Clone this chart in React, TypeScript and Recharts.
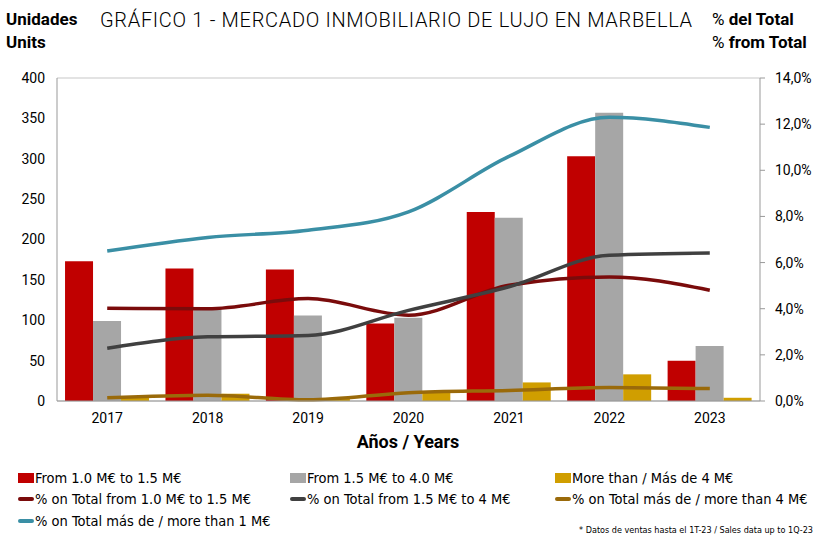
import React from "react";
import {
  ComposedChart,
  Bar,
  Line,
  XAxis,
  YAxis,
  CartesianGrid,
} from "recharts";

const years = ["2017", "2018", "2019", "2020", "2021", "2022", "2023"];

const units1to15 = [173, 164, 163, 96, 234, 303, 50];
const units15to4 = [99, 115, 106, 103, 227, 357, 68];
const unitsOver4 = [4, 9, 3, 11, 23, 33, 4];

const pct1to15 = [4.02, 4.0, 4.44, 3.72, 5.02, 5.38, 4.8];
const pct15to4 = [2.29, 2.78, 2.84, 3.93, 4.95, 6.32, 6.42];
const pctOver4 = [0.14, 0.25, 0.05, 0.36, 0.46, 0.58, 0.54];
const pctOver1 = [6.5, 7.09, 7.4, 8.2, 10.6, 12.3, 11.86];

const leftTicks = [0, 50, 100, 150, 200, 250, 300, 350, 400];
const rightTicks = [0, 2, 4, 6, 8, 10, 12, 14];

const data = years.map((year, i) => ({
  year,
  a: units1to15[i],
  b: units15to4[i],
  c: unitsOver4[i],
  pa: pct1to15[i],
  pb: pct15to4[i],
  pc: pctOver4[i],
  pt: pctOver1[i],
}));

const FONT = "'DejaVu Sans Condensed', 'DejaVu Sans', sans-serif";
const ROBOTO = "Roboto, sans-serif";

const legendItems = [
  { label: "From 1.0 M€ to 1.5 M€", color: "#c00000", kind: "bar", x: 18, y: 469 },
  { label: "From 1.5 M€ to 4.0 M€", color: "#a6a6a6", kind: "bar", x: 290, y: 469 },
  { label: "More than / Más de 4 M€", color: "#d09e00", kind: "bar", x: 555, y: 469 },
  { label: "% on Total from 1.0 M€ to 1.5 M€", color: "#7a0b0b", kind: "line", x: 18, y: 490 },
  { label: "% on Total from 1.5 M€ to 4 M€", color: "#404040", kind: "line", x: 290, y: 490 },
  { label: "% on Total más de / more than 4 M€", color: "#9a6a0a", kind: "line", x: 555, y: 490 },
  { label: "% on Total más de / more than 1 M€", color: "#3a8fa5", kind: "line", x: 18, y: 512 },
];

export default function App() {
  return (
    <div
      style={{
        position: "absolute",
        left: 0,
        top: 0,
        width: 816,
        height: 537,
        background: "#fff",
        fontFamily: FONT,
        color: "#000",
      }}
    >
      <div style={{ position: "absolute", left: 6, top: 8, fontFamily: ROBOTO, fontWeight: 700, fontSize: 17, lineHeight: "23px" }}>
        Unidades
        <br />
        Units
      </div>
      <div
        style={{
          position: "absolute",
          left: 100,
          top: 8,
          fontSize: 20,
          fontFamily: ROBOTO,
          fontWeight: 300,
          whiteSpace: "nowrap",
          letterSpacing: 0.68,
        }}
      >
        GRÁFICO 1 - MERCADO INMOBILIARIO DE LUJO EN MARBELLA
      </div>
      <div style={{ position: "absolute", left: 712, top: 8, fontFamily: ROBOTO, fontSize: 17, lineHeight: "23px", whiteSpace: "nowrap" }}>
        <span>% </span>
        <b>del Total</b>
        <br />
        <span>% </span>
        <b>from Total</b>
      </div>

      <ComposedChart
        width={816}
        height={537}
        data={data}
        margin={{ top: 78, right: 0, left: 0, bottom: 106 }}
        barCategoryGap="8%"
        barGap={0}
        style={{ fontFamily: ROBOTO }}
      >
        <CartesianGrid vertical={false} stroke="#c8c8c8" strokeWidth={1.2} />
        <XAxis
          dataKey="year"
          height={30}
          axisLine={{ stroke: "#999" }}
          tickLine={false}
          tick={{ fill: "#000", fontSize: 14 }}
          tickMargin={6}
        />
        <YAxis
          yAxisId="left"
          width={57}
          domain={[0, 400]}
          ticks={leftTicks}
          axisLine={{ stroke: "#999" }}
          tickLine={false}
          tickMargin={6}
          tick={{ fill: "#000", fontSize: 14 }}
        />
        <YAxis
          yAxisId="right"
          orientation="right"
          width={56}
          domain={[0, 14]}
          ticks={rightTicks}
          axisLine={{ stroke: "#999" }}
          tickLine={{ stroke: "#999" }}
          tickSize={5}
          tickMargin={10}
          tick={{ fill: "#000", fontSize: 14 }}
          tickFormatter={(v: number) => `${v.toFixed(1).replace(".", ",")}%`}
        />
        <Bar yAxisId="left" dataKey="a" fill="#c00000" isAnimationActive={false} />
        <Bar yAxisId="left" dataKey="b" fill="#a6a6a6" isAnimationActive={false} />
        <Bar yAxisId="left" dataKey="c" fill="#d09e00" isAnimationActive={false} />
        <Line yAxisId="right" type="monotone" dataKey="pc" stroke="#9a6a0a" strokeWidth={3.5} dot={false} isAnimationActive={false} />
        <Line yAxisId="right" type="monotone" dataKey="pa" stroke="#7a0b0b" strokeWidth={3.5} dot={false} isAnimationActive={false} />
        <Line yAxisId="right" type="monotone" dataKey="pb" stroke="#404040" strokeWidth={3.5} dot={false} isAnimationActive={false} />
        <Line yAxisId="right" type="monotone" dataKey="pt" stroke="#3a8fa5" strokeWidth={3.5} dot={false} isAnimationActive={false} />
      </ComposedChart>

      <div
        style={{
          position: "absolute",
          left: 0,
          width: 816,
          top: 431,
          textAlign: "center",
          fontFamily: ROBOTO,
          fontWeight: 700,
          fontSize: 18,
        }}
      >
        Años / Years
      </div>

      {legendItems.map((it) => (
        <div
          key={it.label}
          style={{
            position: "absolute",
            left: it.x,
            top: it.y,
            display: "flex",
            alignItems: "center",
            fontSize: 14.5,
            whiteSpace: "nowrap",
            lineHeight: "18px",
          }}
        >
          <span
            style={{
              display: "inline-block",
              width: 16,
              height: it.kind === "bar" ? 10 : 4,
              borderRadius: it.kind === "bar" ? 0 : 2,
              background: it.color,
              marginRight: 1,
            }}
          />
          {it.label}
        </div>
      ))}

      <div
        style={{
          position: "absolute",
          right: 3,
          top: 525,
          fontSize: 9,
          whiteSpace: "nowrap",
        }}
      >
        * Datos de ventas hasta el 1T-23 / Sales data up to 1Q-23
      </div>
    </div>
  );
}
